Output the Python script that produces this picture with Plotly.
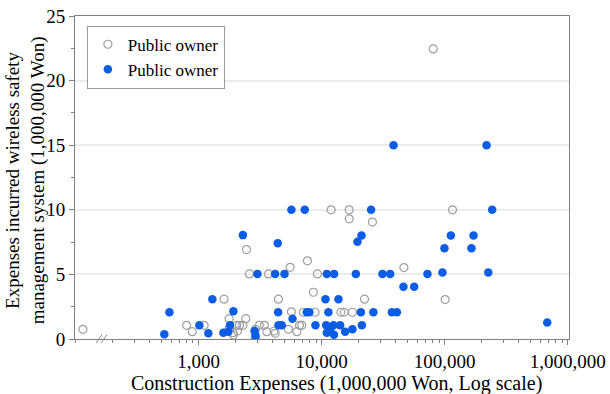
import plotly.graph_objects as go

# Open (grey) circles
open_x = [115, 800, 890, 1110, 1610, 1770, 1770, 1905, 1920, 2040, 2070, 2150, 2290, 2420,
          2450, 2590, 2900, 3120, 3430, 3580, 3700, 4110, 4190, 4460, 5370, 5550, 5680, 6290,
          6610, 6900, 7110, 7670, 8570, 8850, 9250, 11940, 14330, 15240, 16750, 16750, 17790,
          22300, 25880, 46600, 80700, 100900, 115700]
open_y = [0.75, 1.06, 0.57, 1.06, 3.08, 1.57, 0.83, 0.49, 0.31, 1.06, 0.62, 1.06, 1.06, 1.57,
          6.92, 5.04, 0.75, 1.06, 1.06, 0.57, 5.04, 0.62, 0.44, 3.08, 0.75, 5.55, 2.1, 0.57,
          1.06, 1.06, 2.07, 6.05, 3.62, 2.07, 5.04, 10.0, 2.07, 2.07, 10.0, 9.3, 2.07,
          3.08, 9.05, 5.53, 22.45, 3.05, 10.0]

# Filled (blue) circles
blue_x = [527, 580, 1015, 1200, 1295, 1590, 1745, 1803, 1918, 2290, 2850, 2900, 2900, 3008,
          4190, 4400, 4430, 4460, 4740, 4990, 5680, 5800, 7290, 7580, 7950, 8910, 10740, 10890,
          11020, 11020, 11350, 11720, 12470, 12590, 12620, 13700, 14130, 15520, 17790, 18970,
          19550, 20840, 21090, 21230, 25230, 26340, 31200, 36060, 37240, 38400, 40860, 46200,
          56500, 72400, 95900, 99500, 112200, 165000, 171500, 218800, 226000, 243000, 681000]
blue_y = [0.36, 2.07, 1.06, 0.44, 3.08, 0.49, 0.57, 1.06, 2.15, 8.04, 0.62, 0.29, 0.1, 5.04,
          5.04, 7.42, 2.07, 1.06, 1.06, 5.04, 10.0, 1.57, 10.0, 2.07, 2.07, 1.06, 3.08, 1.06,
          5.04, 0.49, 2.07, 0.75, 1.06, 0.33, 5.04, 3.08, 1.06, 0.57, 0.75, 5.04,
          7.52, 2.07, 8.01, 1.06, 10.0, 2.07, 5.04, 5.04, 2.07, 15.0, 2.07, 4.05,
          4.05, 5.04, 5.15, 7.03, 8.01, 7.03, 8.01, 15.0, 5.15, 10.0, 1.27]

x_tick_vals = [1000, 10000, 100000, 1000000]
x_tick_text = ["1,000", "10,000", "100,000", "1,000,000"]
y_tick_vals = [0, 5, 10, 15, 20, 25]

x_title = "Construction Expenses (1,000,000 Won, Log scale)"
y_title = "Expenses incurred wireless safety<br>management system (1,000,000 Won)"

FONT = "Liberation Serif, Times New Roman, serif"
BLUE = "#0b5de6"

fig = go.Figure()
fig.add_trace(go.Scatter(
    x=open_x, y=open_y, mode="markers", name="Public owner",
    marker=dict(symbol="circle", size=8, color="rgba(255,255,255,0)",
                line=dict(color="#9e9e9e", width=1.2))))
fig.add_trace(go.Scatter(
    x=blue_x, y=blue_y, mode="markers", name="Public owner",
    marker=dict(symbol="circle", size=8.5, color=BLUE, line=dict(width=0))))

# axis break marks
for x0 in (0.043, 0.053):
    fig.add_shape(type="line", xref="paper", yref="paper",
                  x0=x0, y0=-0.012, x1=x0 + 0.012, y1=0.014,
                  line=dict(color="#888888", width=1))

fig.add_annotation(text=x_title, xref="paper", yref="paper", x=0.53, y=-0.138,
                   xanchor="center", yanchor="middle", showarrow=False,
                   font=dict(family=FONT, size=20, color="black"))
fig.add_annotation(text=y_title, xref="paper", yref="paper", x=-0.1, y=0.49,
                   xanchor="center", yanchor="middle", showarrow=False, textangle=-90,
                   font=dict(family=FONT, size=19, color="black"))

fig.update_layout(
    width=610, height=394,
    margin=dict(l=75, r=41, t=16, b=55),
    paper_bgcolor="white", plot_bgcolor="white",
    font=dict(family=FONT, size=18, color="black"),
    showlegend=True,
    legend=dict(x=0.024, y=0.97, xanchor="left", yanchor="top",
                bordercolor="#9a9a9a", borderwidth=1, bgcolor="white",
                font=dict(family=FONT, size=17, color="black"),
                tracegroupgap=0, itemwidth=30),
)
fig.update_xaxes(
    type="log", range=[1.996, 6.01], automargin=False,
    tickvals=x_tick_vals, ticktext=x_tick_text,
    ticks="outside", ticklen=5, tickcolor="#808080",
    minor=dict(ticks="outside", ticklen=3, tickcolor="#808080", dtick="D1", showgrid=False),
    showline=True, linecolor="#808080", linewidth=1, mirror=True,
    showgrid=False, zeroline=False,
    tickfont=dict(family=FONT, size=19),
)
fig.update_yaxes(
    range=[0, 25], tickvals=y_tick_vals, automargin=False,
    ticks="outside", ticklen=5, tickcolor="#808080",
    minor=dict(ticks="outside", ticklen=3, tickcolor="#808080", dtick=2.5, showgrid=False),
    showline=True, linecolor="#808080", linewidth=1, mirror=True,
    showgrid=True, gridcolor="#ececec", gridwidth=1.5, zeroline=False,
    tickfont=dict(family=FONT, size=19),
)

fig.write_html("out.html")
